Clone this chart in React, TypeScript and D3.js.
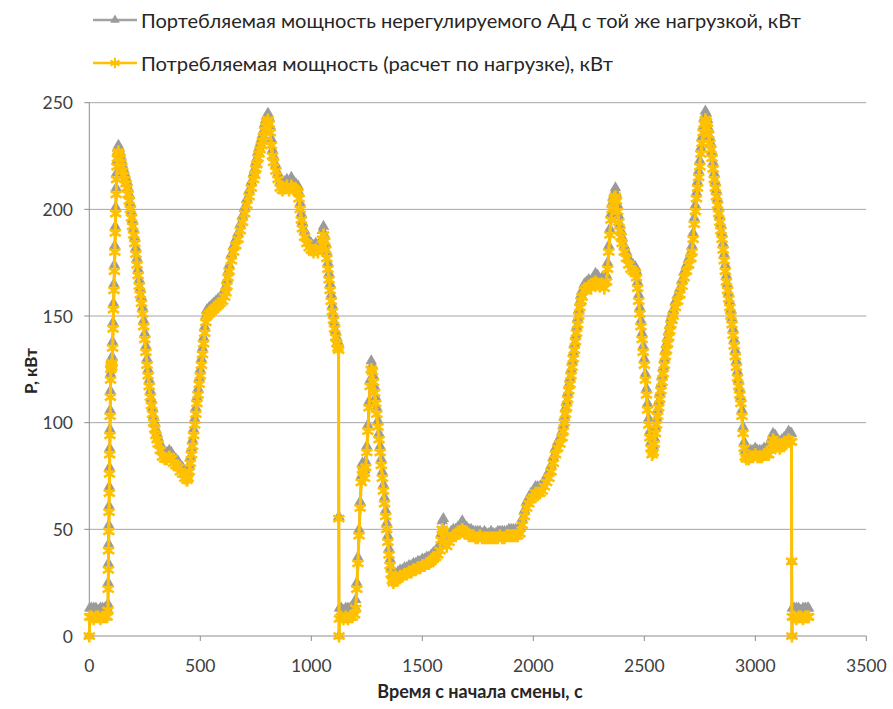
import React from "react";
import * as d3 from "d3";

// Time since the start of the shift, s
const TIME_S = [
  0, 2, 10, 20, 30, 40, 50, 60, 70, 80,
  84, 85, 86, 87, 88, 89, 90, 91, 92, 93,
  94, 95, 96, 97, 99, 101, 103, 105, 107, 109,
  111, 113, 115, 117, 119, 121, 123, 125, 127, 129,
  131, 134, 138, 142, 146, 150, 155, 160, 165, 170,
  175, 180, 185, 190, 195, 200, 205, 210, 215, 220,
  225, 230, 235, 240, 245, 250, 255, 260, 265, 270,
  275, 280, 285, 290, 295, 300, 305, 310, 320, 330,
  340, 350, 360, 370, 380, 390, 400, 410, 420, 430,
  440, 445, 450, 455, 460, 465, 470, 475, 480, 485,
  490, 495, 500, 505, 510, 515, 520, 525, 530, 540,
  550, 560, 570, 580, 590, 600, 610, 615, 620, 625,
  630, 640, 650, 660, 670, 680, 690, 700, 710, 720,
  730, 740, 745, 750, 755, 760, 765, 770, 775, 780,
  785, 790, 795, 800, 805, 810, 815, 820, 825, 830,
  840, 850, 860, 870, 880, 890, 900, 910, 920, 930,
  940, 945, 950, 955, 960, 970, 980, 990, 1000, 1010,
  1020, 1030, 1040, 1050, 1055, 1060, 1065, 1070, 1075, 1080,
  1085, 1090, 1095, 1100, 1105, 1110, 1115, 1120, 1123, 1124,
  1125, 1127, 1135, 1145, 1155, 1165, 1175, 1185, 1195, 1200,
  1205, 1210, 1215, 1220, 1225, 1230, 1235, 1240, 1245, 1250,
  1255, 1260, 1265, 1270, 1275, 1280, 1285, 1290, 1295, 1300,
  1305, 1310, 1315, 1320, 1325, 1330, 1335, 1340, 1345, 1350,
  1355, 1360, 1365, 1370, 1380, 1390, 1400, 1410, 1420, 1430,
  1440, 1450, 1460, 1470, 1480, 1490, 1500, 1510, 1520, 1530,
  1540, 1550, 1560, 1570, 1580, 1585, 1590, 1595, 1600, 1610,
  1620, 1630, 1640, 1650, 1660, 1670, 1680, 1690, 1700, 1710,
  1720, 1730, 1740, 1750, 1760, 1770, 1780, 1790, 1800, 1810,
  1820, 1830, 1840, 1850, 1860, 1870, 1880, 1890, 1900, 1910,
  1920, 1930, 1940, 1950, 1960, 1970, 1980, 1990, 2000, 2010,
  2020, 2030, 2040, 2050, 2060, 2070, 2080, 2090, 2100, 2110,
  2120, 2130, 2135, 2140, 2145, 2150, 2155, 2160, 2165, 2170,
  2175, 2180, 2185, 2190, 2195, 2200, 2205, 2210, 2215, 2220,
  2230, 2240, 2250, 2260, 2270, 2280, 2290, 2300, 2310, 2320,
  2330, 2335, 2340, 2345, 2350, 2355, 2360, 2365, 2370, 2375,
  2380, 2385, 2390, 2395, 2400, 2410, 2420, 2430, 2440, 2450,
  2460, 2465, 2470, 2475, 2480, 2485, 2490, 2495, 2500, 2505,
  2510, 2515, 2520, 2525, 2530, 2535, 2540, 2545, 2550, 2555,
  2560, 2565, 2570, 2575, 2580, 2585, 2590, 2595, 2600, 2605,
  2610, 2615, 2620, 2625, 2630, 2640, 2650, 2660, 2670, 2680,
  2690, 2700, 2710, 2715, 2720, 2725, 2730, 2735, 2740, 2745,
  2750, 2755, 2760, 2765, 2770, 2775, 2780, 2785, 2790, 2795,
  2800, 2805, 2810, 2815, 2820, 2825, 2830, 2835, 2840, 2845,
  2850, 2855, 2860, 2865, 2870, 2875, 2880, 2885, 2890, 2895,
  2900, 2905, 2910, 2915, 2920, 2925, 2930, 2935, 2940, 2945,
  2950, 2955, 2960, 2970, 2980, 2990, 3000, 3010, 3020, 3030,
  3040, 3050, 3060, 3070, 3075, 3080, 3090, 3100, 3110, 3120,
  3130, 3140, 3150, 3160, 3163, 3164, 3165, 3167, 3175, 3185,
  3195, 3205, 3215, 3225, 3235, 3240,
];

// Power drawn by the unregulated motor under the same load, kW
const P_UNREG_KW = [
  0, 13, 13, 13, 13, 12, 13, 13, 13, 13,
  15, 25, 34, 43, 52, 61, 70, 79, 88, 97,
  106, 115, 123, 128, 130, 129, 131, 138, 147, 156,
  165, 174, 183, 192, 201, 210, 217, 223, 227, 229,
  230, 229, 227, 225, 223, 221, 219, 217, 215, 213,
  210, 207, 203, 199, 195, 191, 187, 182, 177, 172,
  167, 163, 159, 154, 148, 142, 136, 130, 125, 120,
  115, 111, 107, 103, 100, 97, 95, 93, 90, 87,
  86, 86, 87, 86, 84, 83, 82, 80, 79, 77,
  76, 77, 80, 84, 88, 92, 97, 102, 107, 112,
  116, 121, 125, 130, 135, 140, 145, 150, 153, 154,
  155, 156, 157, 158, 159, 160, 162, 164, 167, 171,
  174, 179, 183, 186, 189, 193, 197, 201, 205, 209,
  213, 217, 219, 222, 224, 227, 229, 231, 233, 235,
  237, 240, 242, 244, 245, 243, 239, 233, 228, 225,
  221, 217, 213, 212, 213, 214, 212, 215, 213, 212,
  211, 208, 203, 198, 194, 190, 187, 185, 184, 183,
  184, 183, 185, 190, 192, 188, 184, 180, 175, 170,
  165, 160, 155, 151, 147, 143, 140, 138, 137, 56,
  0, 13, 13, 12, 13, 13, 13, 13, 14, 17,
  25, 37, 50, 63, 75, 81, 80, 78, 82, 89,
  99, 110, 120, 129, 127, 122, 117, 112, 107, 101,
  95, 89, 83, 77, 71, 65, 59, 53, 47, 41,
  36, 32, 29, 28, 29, 30, 31, 31, 32, 32,
  33, 33, 34, 34, 35, 35, 36, 36, 37, 37,
  38, 39, 40, 41, 43, 48, 54, 55, 47, 45,
  47, 49, 50, 50, 51, 52, 54, 52, 51, 50,
  50, 49, 49, 49, 49, 48, 49, 48, 48, 49,
  48, 48, 49, 49, 49, 49, 49, 50, 50, 50,
  50, 50, 51, 55, 59, 63, 65, 67, 68, 70,
  70, 70, 71, 73, 75, 77, 80, 84, 88, 91,
  93, 96, 99, 103, 107, 110, 114, 118, 121, 125,
  129, 133, 137, 141, 145, 149, 153, 157, 160, 162,
  165, 166, 167, 166, 168, 170, 169, 167, 168, 166,
  169, 175, 183, 191, 198, 203, 206, 208, 210, 207,
  202, 197, 193, 190, 187, 183, 180, 177, 175, 174,
  173, 171, 166, 160, 154, 148, 142, 136, 130, 123,
  116, 109, 102, 96, 91, 88, 89, 93, 98, 102,
  106, 110, 114, 118, 122, 126, 130, 134, 137, 140,
  143, 146, 149, 151, 153, 157, 160, 163, 167, 171,
  174, 177, 180, 183, 189, 196, 202, 208, 213, 218,
  223, 229, 234, 239, 243, 246, 245, 242, 238, 234,
  231, 227, 222, 217, 213, 209, 205, 201, 197, 193,
  189, 184, 179, 174, 169, 165, 161, 157, 153, 149,
  144, 139, 134, 129, 124, 120, 116, 112, 106, 98,
  91, 87, 86, 86, 87, 87, 88, 87, 87, 87,
  88, 88, 88, 90, 93, 95, 94, 92, 91, 92,
  93, 94, 96, 95, 95, 35, 0, 13, 13, 13,
  13, 12, 13, 13, 13, 13,
];

// Power drawn, calculated from the load, kW
const P_CALC_KW = [
  0, 9, 9, 8, 9, 9, 8, 9, 9, 9,
  12, 22, 31, 40, 49, 58, 67, 76, 85, 94,
  103, 112, 120, 125, 127, 126, 128, 135, 144, 153,
  162, 171, 180, 189, 198, 207, 214, 220, 224, 226,
  227, 226, 224, 222, 220, 218, 216, 214, 212, 210,
  207, 204, 200, 196, 192, 188, 184, 179, 174, 169,
  164, 160, 156, 151, 145, 139, 133, 127, 122, 117,
  112, 108, 104, 100, 97, 94, 92, 90, 87, 84,
  83, 83, 84, 83, 81, 80, 79, 77, 76, 74,
  73, 74, 77, 81, 85, 89, 94, 99, 104, 109,
  113, 118, 122, 127, 132, 137, 142, 147, 150, 151,
  152, 153, 154, 155, 156, 157, 159, 161, 164, 168,
  171, 176, 180, 183, 186, 190, 194, 198, 202, 206,
  210, 214, 216, 219, 221, 224, 226, 228, 230, 232,
  234, 237, 239, 241, 242, 240, 236, 230, 225, 222,
  218, 214, 210, 209, 210, 211, 209, 211, 210, 209,
  208, 205, 200, 195, 191, 187, 184, 182, 181, 180,
  181, 180, 182, 186, 188, 185, 181, 177, 172, 167,
  162, 157, 152, 148, 144, 140, 137, 135, 134, 55,
  0, 8, 9, 8, 9, 8, 9, 9, 10, 13,
  22, 34, 47, 60, 72, 78, 77, 74, 79, 86,
  96, 107, 117, 125, 124, 119, 114, 109, 104, 98,
  92, 86, 80, 74, 68, 62, 56, 50, 44, 38,
  33, 29, 26, 25, 26, 27, 28, 28, 29, 29,
  30, 30, 31, 31, 32, 32, 33, 33, 34, 34,
  35, 36, 37, 38, 40, 45, 50, 49, 44, 42,
  44, 46, 47, 47, 48, 49, 50, 49, 48, 47,
  47, 47, 46, 46, 47, 46, 46, 46, 46, 46,
  46, 46, 46, 47, 46, 46, 47, 47, 47, 47,
  47, 47, 48, 52, 56, 60, 62, 64, 65, 67,
  67, 67, 68, 70, 72, 74, 77, 81, 85, 88,
  90, 93, 96, 100, 104, 107, 111, 115, 118, 122,
  126, 130, 134, 138, 142, 146, 150, 154, 157, 159,
  162, 163, 164, 163, 165, 166, 165, 164, 165, 163,
  166, 172, 180, 188, 195, 200, 203, 205, 206, 204,
  199, 194, 190, 187, 184, 180, 177, 174, 172, 171,
  170, 168, 163, 157, 151, 145, 139, 133, 127, 120,
  113, 106, 99, 93, 88, 85, 86, 90, 95, 99,
  103, 107, 111, 115, 119, 123, 127, 131, 134, 137,
  140, 143, 146, 148, 150, 154, 157, 160, 164, 168,
  171, 174, 177, 180, 186, 193, 199, 205, 210, 215,
  220, 226, 231, 236, 240, 242, 241, 238, 235, 231,
  228, 224, 219, 214, 210, 206, 202, 198, 194, 190,
  186, 181, 176, 171, 166, 162, 158, 154, 150, 146,
  141, 136, 131, 126, 121, 117, 113, 109, 103, 95,
  88, 84, 83, 83, 84, 84, 85, 84, 84, 84,
  85, 85, 85, 87, 90, 92, 91, 89, 88, 89,
  90, 91, 92, 91, 91, 35, 0, 9, 9, 8,
  9, 9, 8, 9, 9, 9,
];

const X_TICKS = [0, 500, 1000, 1500, 2000, 2500, 3000, 3500];
const Y_TICKS = [0, 50, 100, 150, 200, 250];

const SERIES_NAMES = [
  "Портебляемая мощность нерегулируемого АД с той же нагрузкой, кВт",
  "Потребляемая мощность (расчет по нагрузке), кВт",
];
const X_TITLE = "Время с начала смены, с";
const Y_TITLE = "Р, кВт";

const W = 893;
const H = 709;
const GRAY = "#a3a3a3";
const GRAY_MARK = "#9b9b9b";
const GOLD = "#ffc000";
const AXIS = "#8c8c8c";
const GRID = "#a6a6a6";
const FONT = "Lato, 'Open Sans', sans-serif";

// six-armed asterisk marker
function starPath(r: number) {
  const c = r * 0.866;
  const s = r * 0.5;
  return `M0,${-r}L0,${r}M${-c},${-s}L${c},${s}M${-c},${s}L${c},${-s}`;
}

export default function App() {
  const x = d3.scaleLinear().domain([0, 3500]).range([89.3, 866.3]);
  const y = d3.scaleLinear().domain([0, 250]).range([636, 102.7]);

  const unreg: [number, number][] = TIME_S.map((t, i) => [t, P_UNREG_KW[i]]);
  const calc: [number, number][] = TIME_S.map((t, i) => [t, P_CALC_KW[i]]);

  const line = d3
    .line<[number, number]>()
    .x((d) => x(d[0]))
    .y((d) => y(d[1]));

  const tri = d3.symbol().type(d3.symbolTriangle).size(58)() as string;
  const legendTri = d3.symbol().type(d3.symbolTriangle).size(40)() as string;
  const star = starPath(6.4);
  const legendStar = starPath(5.2);

  const [x0, x1] = x.range();
  const [yb, yt] = y.range();

  return (
    <svg
      width={W}
      height={H}
      viewBox={`0 0 ${W} ${H}`}
      style={{ position: "absolute", left: 0, top: 0, background: "#fff" }}
      fontFamily={FONT}
    >
      <rect width={W} height={H} fill="#fff" />

      {/* horizontal gridlines */}
      {Y_TICKS.filter((v) => v > 0).map((v) => (
        <line key={`g${v}`} x1={x0} x2={x1} y1={y(v)} y2={y(v)} stroke={GRID} strokeWidth={1} />
      ))}

      {/* axes */}
      <line x1={x0} x2={x0} y1={yt} y2={yb} stroke={AXIS} strokeWidth={1} />
      <line x1={x0} x2={x1} y1={yb} y2={yb} stroke={AXIS} strokeWidth={1} />
      {Y_TICKS.map((v) => (
        <line key={`yt${v}`} x1={x0 - 5} x2={x0} y1={y(v)} y2={y(v)} stroke={AXIS} />
      ))}
      {X_TICKS.map((v) => (
        <line key={`xt${v}`} x1={x(v)} x2={x(v)} y1={yb} y2={yb + 5} stroke={AXIS} />
      ))}

      {/* tick labels */}
      {Y_TICKS.map((v) => (
        <text
          key={`yl${v}`}
          x={73}
          y={y(v)}
          textAnchor="end"
          dominantBaseline="central"
          fontSize={17.5}
          fill="#404040"
        >
          {v}
        </text>
      ))}
      {X_TICKS.map((v) => (
        <text
          key={`xl${v}`}
          x={x(v)}
          y={665}
          textAnchor="middle"
          dominantBaseline="central"
          fontSize={17.5}
          fill="#404040"
        >
          {v}
        </text>
      ))}

      {/* axis titles */}
      <text
        x={480}
        y={691}
        textAnchor="middle"
        dominantBaseline="central"
        fontSize={18}
        fontWeight="bold"
        fill="#262626"
      >
        {X_TITLE}
      </text>
      <text
        transform={`translate(30,371) rotate(-90)`}
        textAnchor="middle"
        dominantBaseline="central"
        fontSize={17}
        fontWeight="bold"
        fill="#262626"
      >
        {Y_TITLE}
      </text>

      {/* unregulated motor series */}
      <path d={line(unreg) ?? ""} fill="none" stroke={GRAY} strokeWidth={2.5} strokeLinejoin="round" />
      {unreg.map((d, i) => (
        <path key={`u${i}`} d={tri} transform={`translate(${x(d[0])},${y(d[1])})`} fill={GRAY_MARK} />
      ))}

      {/* load-based series */}
      <path d={line(calc) ?? ""} fill="none" stroke={GOLD} strokeWidth={3} strokeLinejoin="round" />
      {calc.map((d, i) => (
        <path
          key={`c${i}`}
          d={star}
          transform={`translate(${x(d[0])},${y(d[1])})`}
          fill="none"
          stroke={GOLD}
          strokeWidth={2.6}
        />
      ))}

      {/* legend */}
      <g>
        <line x1={93} x2={137} y1={20} y2={20} stroke={GRAY} strokeWidth={2.5} />
        <path d={legendTri} transform="translate(115,20)" fill={GRAY_MARK} />
        <text x={141} y={20} dominantBaseline="central" fontSize={19} fill="#262626" textLength={660} lengthAdjust="spacingAndGlyphs">
          {SERIES_NAMES[0]}
        </text>
        <line x1={93} x2={137} y1={63} y2={63} stroke={GOLD} strokeWidth={2.5} />
        <path d={legendStar} transform="translate(115,63)" fill="none" stroke={GOLD} strokeWidth={2} />
        <text x={141} y={63} dominantBaseline="central" fontSize={19} fill="#262626" textLength={472} lengthAdjust="spacingAndGlyphs">
          {SERIES_NAMES[1]}
        </text>
      </g>
    </svg>
  );
}
